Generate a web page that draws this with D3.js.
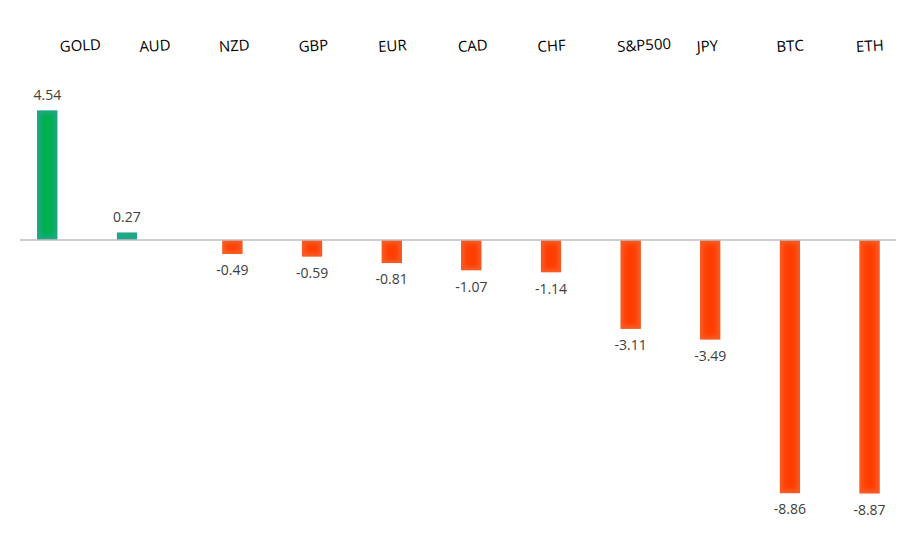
<!DOCTYPE html>
<html>
<head>
<meta charset="utf-8">
<script src="https://cdn.jsdelivr.net/npm/d3@7"></script>
<style>
    body { margin: 0; background: #fff; }
    .cat-label { font-family: "Open Sans", sans-serif; font-size: 15px; fill: #000; }
    .value-label { font-family: "Open Sans", sans-serif; font-size: 14px; fill: #404040; text-anchor: middle; }
    .zero-line { stroke: #bfbfbf; stroke-width: 1.6; }
</style>
</head>
<body>
<div id="chart"></div>
<script>
//////////////////////////////////////////////////////////////
/////////////////////////// Data /////////////////////////////
//////////////////////////////////////////////////////////////

const categories = ["GOLD", "AUD", "NZD", "GBP", "EUR", "CAD", "CHF", "S&P500", "JPY", "BTC", "ETH"]
const values = [4.54, 0.27, -0.49, -0.59, -0.81, -1.07, -1.14, -3.11, -3.49, -8.86, -8.87]
const series = ["up", "down"] // positive values sit in the left slot, negative in the right

//Colors (centre / soft edge)
const upColors = { center: "#00b050", edge: "#22a68a" }
const downColors = { center: "#ff3c00", edge: "#f75d26" }

//////////////////////////////////////////////////////////////
//////////////////////// Create SVG //////////////////////////
//////////////////////////////////////////////////////////////

const width = 918
const height = 547

const svg = d3.select("#chart").append("svg")
    .attr("width", width)
    .attr("height", height)

//////////////////////////////////////////////////////////////
////////////////////// Create scales /////////////////////////
//////////////////////////////////////////////////////////////

const x = d3.scaleBand()
    .domain(categories)
    .range([20, 896])

const xInner = d3.scaleBand()
    .domain(series)
    .range([17, 63.5])
    .paddingInner(0.2)

const y = d3.scaleLinear()
    .domain([-10, 5])
    .range([526, 97])

const data = categories.map((c, i) => ({ cat: c, value: values[i], s: values[i] >= 0 ? "up" : "down" }))

//plain hyphen for negatives, like the original
const fmt = v => d3.format(".2f")(v).replace("\u2212", "-")

//////////////////////////////////////////////////////////////
///////////////////// Soft edge filter ///////////////////////
//////////////////////////////////////////////////////////////

const defs = svg.append("defs")
const soft = defs.append("filter")
    .attr("id", "soft")
    .attr("x", "-50%").attr("y", "-50%")
    .attr("width", "200%").attr("height", "200%")
soft.append("feGaussianBlur").attr("stdDeviation", 2.2)

//////////////////////////////////////////////////////////////
///////////////////////// Draw bars //////////////////////////
//////////////////////////////////////////////////////////////

const bars = svg.append("g").attr("class", "bar-group")

const barGroup = bars.selectAll(".bar")
    .data(data)
    .enter().append("g")
    .attr("class", "bar")

barGroup.each(function(d, i) {
    const g = d3.select(this)
    const bx = x(d.cat) + xInner(d.s)
    const bw = xInner.bandwidth()
    const by = Math.min(y(d.value), y(0))
    const bh = Math.abs(y(d.value) - y(0))
    const col = d.value >= 0 ? upColors : downColors

    defs.append("clipPath").attr("id", "clip-" + i)
        .append("rect")
        .attr("x", bx).attr("y", by)
        .attr("width", bw).attr("height", bh)

    const inner = g.append("g").attr("clip-path", "url(#clip-" + i + ")")
    inner.append("rect")
        .attr("x", bx).attr("y", by)
        .attr("width", bw).attr("height", bh)
        .style("fill", col.edge)
    inner.append("rect")
        .attr("x", bx + 3.5).attr("y", by + 3.5)
        .attr("width", Math.max(0, bw - 7)).attr("height", Math.max(0, bh - 7))
        .style("fill", col.center)
        .style("filter", "url(#soft)")
})

//////////////////////////////////////////////////////////////
///////////////////////// Zero line //////////////////////////
//////////////////////////////////////////////////////////////

svg.append("line")
    .attr("class", "zero-line")
    .attr("x1", x.range()[0])
    .attr("x2", x.range()[1])
    .attr("y1", y(0))
    .attr("y2", y(0))

//////////////////////////////////////////////////////////////
/////////////////////// Value labels /////////////////////////
//////////////////////////////////////////////////////////////

svg.append("g").attr("class", "value-label-group")
    .selectAll(".value-label")
    .data(data)
    .enter().append("text")
    .attr("class", "value-label")
    .attr("x", d => x(d.cat) + xInner(d.s) + xInner.bandwidth() / 2)
    .attr("y", d => d.value >= 0 ? y(d.value) - 10 : y(d.value) + 21)
    .text(d => fmt(d.value))

//////////////////////////////////////////////////////////////
///////////////////// Category labels ////////////////////////
//////////////////////////////////////////////////////////////

svg.append("g").attr("class", "cat-label-group")
    .selectAll(".cat-label")
    .data(categories)
    .enter().append("text")
    .attr("class", "cat-label")
    .attr("transform", d => "translate(" + [x(d) + 40, 52] + ") rotate(-3.5)")
    .text(d => d)
</script>
</body>
</html>
